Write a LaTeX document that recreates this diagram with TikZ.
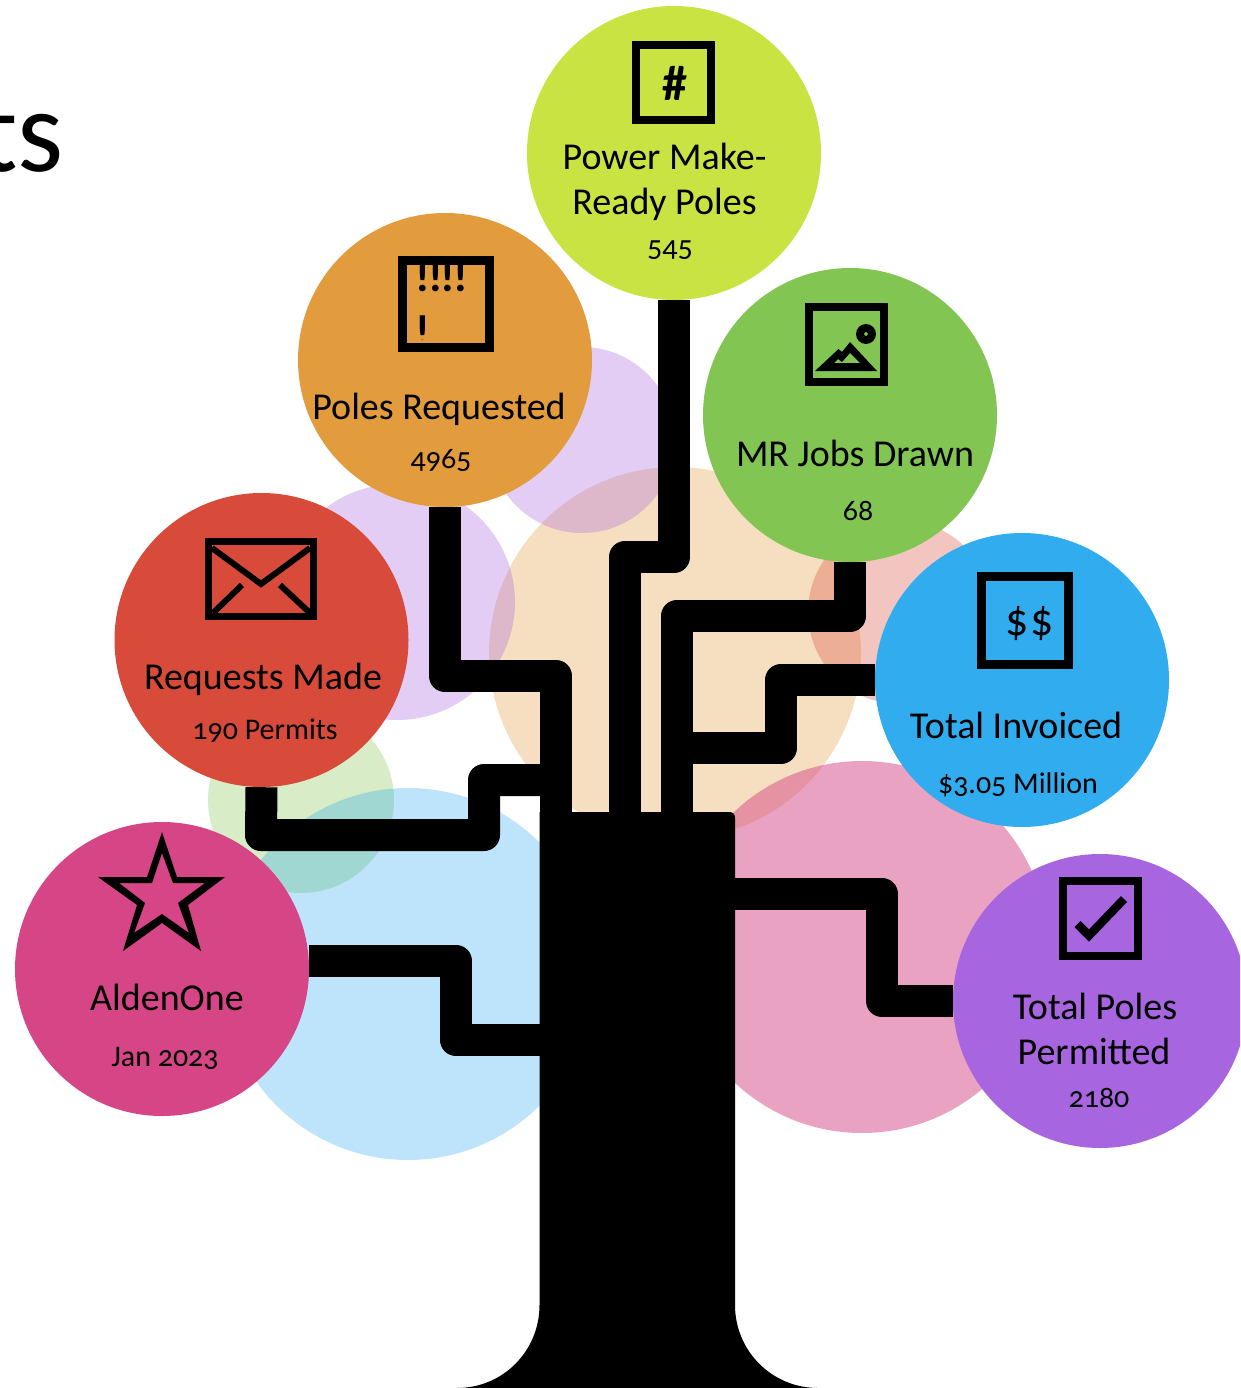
\documentclass[tikz,border=0pt]{standalone}
\usepackage{fontspec}
\setmainfont{Carlito}[Numbers=OldStyle]
\pgfdeclarelayer{branches}
\pgfdeclarelayer{halos}
\pgfsetlayers{halos,branches,main}
\definecolor{cLime}{HTML}{C9E342}
\definecolor{cOrange}{HTML}{E29C3D}
\definecolor{cGreen}{HTML}{82C552}
\definecolor{cRed}{HTML}{D84B3A}
\definecolor{cBlue}{HTML}{31ACEE}
\definecolor{cMagenta}{HTML}{D64585}
\definecolor{cPurple}{HTML}{A865E0}
\tikzset{
  disc/.style={circle,minimum size=294pt,inner sep=0pt,fill=#1},
  halo/.style={fill=#1,fill opacity=.32,draw=none},
  branch/.style={draw=black,line width=32pt,line join=round,line cap=butt},
  frame/.style={draw=black,line width=#1,line join=miter},
  big/.style={anchor=base,inner sep=0pt,font=\fontsize{38}{38}\selectfont},
  small/.style={anchor=base,inner sep=0pt,font=\fontsize{30}{30}\selectfont},
}
\begin{document}
\begin{tikzpicture}[x=1pt,y=-1pt]
\useasboundingbox (0,0) rectangle (1240,1388);
\clip (0,0) rectangle (1240,1388);

% title fragment
\node[anchor=base east,inner sep=0pt,font=\fontsize{118}{118}\selectfont] (title) at (64,172) {ts};

% discs
\node[disc=cLime] (lime) at (674,153) {};
\node[disc=cOrange] (orange) at (445,360) {};
\node[disc=cGreen] (green) at (850,415) {};
\node[disc=cRed] (red) at (261.5,640) {};
\node[disc=cBlue] (blue) at (1022,680) {};
\node[disc=cMagenta] (magenta) at (162,969) {};
\node[disc=cPurple] (purple) at (1100,1001) {};

% translucent crown
\begin{pgfonlayer}{halos}
\fill[halo=cOrange] (675,653) circle (186);
\fill[halo=cPurple] (582,440) circle (93);
\fill[halo=cPurple] (397,602) circle (118);
\fill[halo=cRed] (900,612) circle (92);
\fill[cMagenta,fill opacity=.5] (862,947) circle (186);
\fill[halo=cGreen] (301,800) circle (93);
\fill[halo=cBlue] (408,974) circle (186);
\end{pgfonlayer}

% trunk and branches
\begin{pgfonlayer}{branches}
\fill[black] (539.5,812) -- (729,812) .. controls (733,812) and (735,814) .. (735,818)
  -- (735,1305) .. controls (735,1351) and (772,1388) .. (818,1388)
  -- (457,1388) .. controls (503,1388) and (539.5,1351) .. (539.5,1305) -- cycle;
\coordinate (tA) at (625,830);
\coordinate (tB) at (556,830);
\coordinate (tC) at (677,830);
\coordinate (tD) at (677,748);
\coordinate (tE) at (556,780);
\coordinate (tF) at (735,894);
\coordinate (tG) at (540,1040);
\draw[branch] (lime.south) -- (674,557) -- (625,557) -- (tA);
\draw[branch] (orange.south) -- (445,676) -- (556,676) -- (tB);
\draw[branch] (green.south) -- (850,616) -- (677,616) -- (tC);
\draw[branch] (blue.west) -- (781,680) -- (781,748) -- (tD);
\draw[branch] (red.south) -- (261,835) -- (484,835) -- (484,780) -- (tE);
\draw[branch] (purple.west) -- (882,1001) -- (882,894) -- (tF);
\draw[branch] (magenta.east) ++(0,-8) -- (456,961) -- (456,1040) -- (tG);
\end{pgfonlayer}

% lime icon and text
\draw[frame=8pt] (636,45) rectangle (711,120);
\node[anchor=center,inner sep=0pt,font=\fontsize{50}{50}\selectfont\bfseries] (hash) at (675,83) {\#};
\node[big] (t1a) at (664.5,170) {Power Make-};
\node[big] (t1b) at (664.5,215) {Ready Poles};
\node[small] (t1c) at (670,256) {545};

% orange icon and text
\begin{scope}
\clip (398,256) rectangle (494,339);
\node[anchor=base west,inner sep=0pt,font=\fontsize{45}{45}\selectfont\bfseries] (bang1) at (415,291) {!\kern-1.8pt!\kern-1.8pt!\kern-1.8pt!};
\node[anchor=base west,inner sep=0pt,font=\fontsize{45}{45}\selectfont\bfseries] (bang2) at (415,346) {!};
\end{scope}
\draw[frame=9pt] (402.5,260.5) rectangle (489.5,347.5);
\node[big] (t2a) at (439,419) {Poles Requested};
\node[small] (t2b) at (441,468) {4965};

% green icon and text
\draw[frame=8pt] (809,307) rectangle (884,382);
\fill[black,even odd rule] (866,334) circle (10) (866,334) circle (2);
\fill[black,even odd rule] (815,371) -- (838.5,349) -- (842,352) -- (850,342) -- (877,371) -- cycle
  (834,363) -- (838,359) -- (842,362) -- (850,353) -- (860,363) -- cycle;
\node[big] (t3a) at (855,466) {MR Jobs Drawn};
\node[small] (t3b) at (858,520) {68};

% blue icon and text
\draw[frame=9pt] (981.5,576.5) rectangle (1068.5,664.5);
\node[anchor=center,inner sep=0pt,font=\fontsize{46}{46}\selectfont,text=black] (dollars) at (1029.5,624) {\$\kern2pt\$};
\node[big] (t4a) at (1016,738) {Total Invoiced};
\node[small] (t4b) at (1018,793) {\$3.05 Million};

% red icon and text
\draw[frame=7pt] (208.5,541.5) rectangle (313.5,616.5);
\draw[black,line width=6pt,line join=miter] (212,548) -- (261,584) -- (310,548);
\draw[black,line width=6pt] (242,585) -- (213,613);
\draw[black,line width=6pt] (280,585) -- (310,613);
\node[big] (t5a) at (263,689) {Requests Made};
\node[small] (t5b) at (265,739) {190 Permits};

% magenta icon and text
\fill[black,even odd rule]
  (162,832) -- (177,877) -- (225,877) -- (188,905) -- (201,951) -- (162,923) -- (123,951) -- (137,905) -- (98,877) -- (147,877) -- cycle
  (162,853) -- (173,883) -- (205,883) -- (178,903) -- (189,933) -- (162,914) -- (134,933) -- (145,903) -- (119,883) -- (152,883) -- cycle;
\node[big] (t6a) at (167,1010) {AldenOne};
\node[small] (t6b) at (165,1066) {Jan 2023};

% purple icon and text
\draw[frame=8pt] (1063,881) rectangle (1138,956);
\draw[black,line width=8.5pt,line join=miter] (1077.5,924) -- (1089,935.5) -- (1124,899);
\node[big] (t7a) at (1095,1019) {Total Poles};
\node[big] (t7b) at (1094,1064) {Permitted};
\node[small] (t7c) at (1099,1107) {2180};
\end{tikzpicture}
\end{document}
